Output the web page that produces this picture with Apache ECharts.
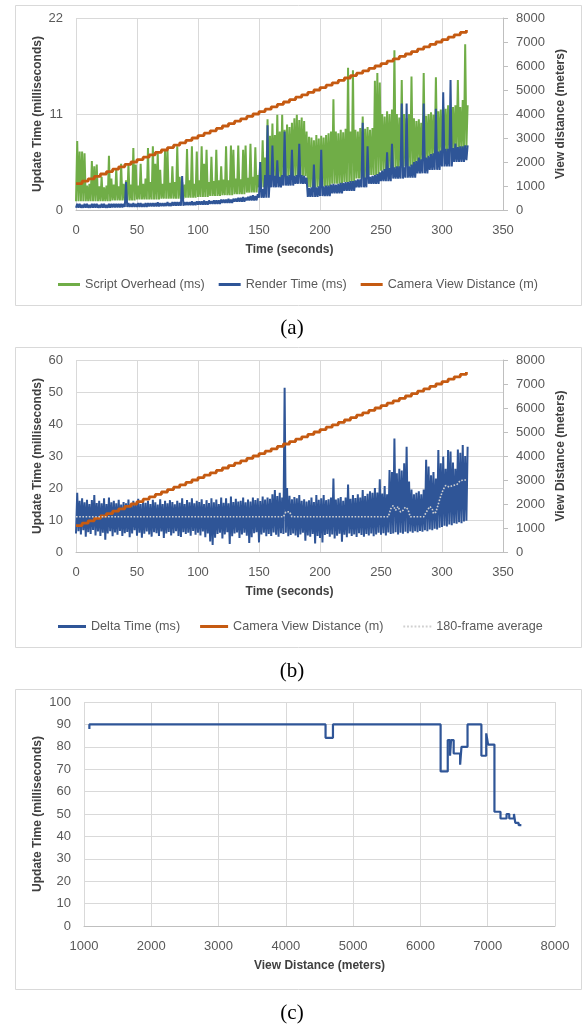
<!DOCTYPE html>
<html>
<head>
<meta charset="utf-8">
<script src="https://cdn.jsdelivr.net/npm/echarts/dist/echarts.min.js"></script>
<style>
  html, body { margin: 0; padding: 0; background: #fff; }
  #chart { width: 584px; height: 1026px; }
</style>
</head>
<body>
<div id="chart"></div>
<script>
// ---- (a) / (b): samples read every 2 s, t = 0 .. 320 ----
const sampleTimes = Array.from({ length: 161 }, (_, i) => i * 2);

// (a) Script Overhead, peak of each 2 s bin (ms)
const scriptHigh = [
  7.9, 6.7, 6.7, 6.5, 2.8, 3.0, 5.6, 5.0, 5.2, 2.7,
  3.8, 2.6, 2.8, 6.2, 3.6, 2.9, 4.8, 2.7, 5.3, 3.0,
  3.4, 5.3, 2.9, 7.1, 5.2, 2.8, 5.3, 3.0, 3.6, 7.1,
  3.2, 7.3, 5.3, 6.5, 4.6, 3.0, 6.9, 6.9, 3.1, 5.0,
  3.2, 7.3, 3.8, 3.2, 2.9, 7.0, 3.4, 7.3, 3.0, 6.7,
  3.4, 7.3, 5.3, 6.9, 3.2, 6.1, 3.3, 6.9, 3.4, 5.0,
  3.5, 7.3, 3.4, 7.4, 6.9, 3.6, 7.4, 3.5, 6.9, 7.4,
  3.7, 7.6, 3.8, 7.2, 4.0, 5.5, 8.0, 6.0, 10.4, 8.5,
  9.9, 8.6, 10.9, 9.0, 10.9, 9.2, 9.8, 9.5, 10.0, 10.5,
  10.9, 10.3, 10.6, 10.2, 9.0, 8.4, 8.3, 8.0, 8.6, 8.2,
  8.5, 8.3, 8.6, 8.8, 9.0, 12.7, 9.0, 8.8, 9.2, 8.9,
  9.3, 16.3, 9.0, 16.0, 9.2, 9.0, 9.4, 10.7, 9.3, 9.5,
  9.2, 9.4, 14.8, 15.7, 14.6, 11.0, 10.7, 11.3, 11.0, 11.5,
  18.3, 11.0, 10.6, 14.9, 11.0, 10.5, 11.0, 15.3, 10.5, 10.2,
  10.4, 10.0, 15.7, 10.8, 11.0, 11.2, 10.9, 15.2, 11.3, 11.5,
  11.8, 11.6, 12.0, 11.5, 11.8, 12.0, 14.9, 11.8, 12.6, 19.0,
  12.0
];
// (a) Script Overhead, floor of each 10 s span (ms), t = 0 .. 320
const scriptLow = [
  1.0, 1.0, 1.0, 1.1, 1.1, 1.2, 1.2, 1.3, 1.3, 1.4,
  1.5, 1.6, 1.7, 1.8, 2.0, 2.6, 3.6, 3.8, 3.9, 2.6,
  2.7, 3.0, 3.2, 3.6, 4.0, 4.5, 4.8, 5.0, 5.6, 6.2,
  6.6, 7.0, 7.2
];
// (a) Render Time, peak of each 2 s bin (ms)
const renderHigh = [
  0.7, 0.7, 0.6, 0.7, 0.7, 0.6, 0.7, 0.7, 0.7, 0.6,
  0.7, 0.7, 0.6, 0.7, 0.7, 0.7, 0.7, 0.7, 0.7, 0.7,
  3.2, 0.8, 0.7, 0.8, 0.7, 0.8, 0.8, 0.7, 0.8, 0.8,
  0.8, 0.8, 0.8, 0.9, 0.8, 0.8, 0.8, 0.9, 0.8, 0.9,
  0.9, 0.9, 0.9, 3.9, 0.9, 0.9, 0.9, 1.0, 0.9, 1.0,
  1.0, 1.0, 1.1, 1.0, 1.1, 1.0, 1.1, 1.1, 1.1, 1.2,
  1.2, 1.2, 1.3, 1.2, 1.3, 1.3, 1.4, 1.4, 1.5, 1.4,
  1.5, 1.6, 1.7, 1.6, 1.8, 5.5, 2.4, 4.0, 9.7, 4.0,
  7.4, 3.9, 5.7, 3.8, 4.0, 9.0, 3.9, 4.0, 6.9, 3.9,
  4.0, 7.6, 4.0, 3.9, 3.7, 2.5, 2.6, 5.2, 2.6, 2.7,
  6.9, 2.7, 2.8, 2.8, 2.9, 3.0, 2.9, 3.0, 3.1, 3.1,
  3.2, 3.2, 3.3, 3.3, 3.4, 3.5, 3.5, 10.0, 3.7, 7.3,
  3.8, 3.9, 4.0, 4.1, 4.3, 4.5, 4.7, 6.6, 4.8, 7.6,
  4.9, 5.0, 5.0, 12.2, 4.9, 12.2, 5.0, 5.2, 5.5, 5.6,
  6.0, 5.8, 12.2, 6.0, 6.2, 6.4, 6.5, 11.6, 6.7, 6.8,
  13.5, 7.0, 7.0, 14.9, 7.1, 7.6, 7.2, 7.3, 7.3, 7.4,
  7.4
];
// (a) Render Time, floor of each 10 s span (ms)
const renderLow = [
  0.25, 0.25, 0.25, 0.3, 0.35, 0.35, 0.4, 0.45, 0.5, 0.55,
  0.6, 0.7, 0.8, 0.95, 1.1, 1.4, 2.6, 2.8, 3.0, 1.5,
  1.6, 1.9, 2.2, 2.6, 3.0, 3.3, 3.6, 3.7, 4.2, 4.6,
  5.0, 5.5, 5.7
];

// camera view distance: one step every 5 s (m)
const stepTimes = Array.from({ length: 65 }, (_, i) => i * 5);
const viewDistance = [
  1100, 1200, 1300, 1400, 1500, 1600, 1700, 1800, 1900, 2000,
  2100, 2200, 2300, 2400, 2500, 2600, 2700, 2800, 2900, 3000,
  3100, 3200, 3300, 3400, 3500, 3600, 3700, 3800, 3900, 4000,
  4100, 4200, 4300, 4400, 4500, 4600, 4700, 4800, 4900, 5000,
  5100, 5200, 5300, 5400, 5500, 5600, 5700, 5800, 5900, 6000,
  6100, 6200, 6300, 6400, 6500, 6600, 6700, 6800, 6900, 7000,
  7100, 7200, 7300, 7400, 7500
];

// (b) Delta Time, peak / floor of each 2 s bin (ms)
const deltaHigh = [
  18.5, 16.0, 16.8, 15.5, 16.3, 15.0, 16.2, 17.8, 15.3, 16.0,
  15.2, 16.8, 15.0, 17.0, 15.5, 16.0, 15.2, 16.3, 14.8, 15.6,
  15.2, 16.4, 15.0, 16.0, 15.3, 16.6, 15.0, 15.8, 15.4, 16.0,
  15.0, 16.3, 15.5, 14.8, 16.5, 15.0, 16.0, 15.2, 16.2, 15.6,
  14.9, 16.0, 15.4, 16.8, 15.0, 16.2, 15.5, 16.8, 15.2, 16.0,
  15.6, 16.5, 15.0, 16.2, 15.3, 16.8, 15.5, 16.4, 15.0, 17.0,
  15.4, 16.8, 15.2, 17.3, 15.6, 16.6, 15.8, 16.0, 17.0, 15.5,
  16.4, 15.8, 17.0, 16.2, 16.8, 15.9, 17.3, 16.4, 17.0, 16.6,
  18.0, 19.4, 17.5, 18.5, 17.0, 51.3, 20.0, 17.6, 16.5, 17.2,
  16.8, 17.8, 16.0, 16.5, 15.8, 16.2, 17.0, 15.6, 17.8, 16.3,
  16.8, 17.8, 16.2, 16.5, 17.0, 23.0, 16.4, 16.8, 17.2, 16.0,
  17.0, 21.1, 16.6, 17.8, 16.9, 18.0, 17.0, 19.4, 17.5, 18.2,
  19.0, 18.5, 20.0, 18.6, 22.7, 18.3, 20.6, 18.0, 25.6, 25.0,
  35.5, 24.6, 26.0, 25.5, 27.7, 32.9, 22.0, 19.5, 18.0, 18.5,
  19.0, 18.0, 19.5, 28.8, 26.7, 24.0, 25.0, 23.0, 31.9, 27.7,
  29.8, 26.0, 31.9, 31.4, 28.0, 26.0, 32.0, 31.0, 33.4, 30.0,
  32.9
];
const deltaLow = [
  5.8, 6.5, 5.5, 6.8, 4.8, 6.2, 5.6, 6.9, 5.2, 6.4,
  5.0, 6.0, 3.8, 5.8, 6.5, 4.9, 6.1, 5.4, 6.6, 5.0,
  5.9, 6.3, 4.6, 5.8, 6.8, 5.1, 6.0, 4.5, 5.7, 6.4,
  5.5, 4.8, 6.2, 5.9, 5.0, 6.4, 4.4, 5.8, 6.3, 5.2,
  5.9, 6.5, 5.0, 4.7, 6.2, 5.6, 6.0, 5.1, 6.6, 5.4,
  6.0, 5.2, 6.4, 4.6, 5.8, 3.3, 2.2, 4.5, 5.6, 6.0,
  4.2, 5.5, 6.2, 2.5, 4.9, 5.8, 6.1, 4.4, 5.5, 6.0,
  5.1, 2.8, 4.6, 5.9, 6.2, 3.0, 5.5, 6.0, 4.9, 5.6,
  5.0, 6.1, 5.4, 4.8, 5.9, 5.6, 6.0, 4.9, 5.3, 5.8,
  5.2, 4.6, 5.5, 6.0, 3.5, 5.2, 4.8, 5.6, 2.7, 5.0,
  4.4, 3.0, 5.3, 5.6, 4.8, 5.5, 4.2, 5.1, 5.7, 3.2,
  5.4, 4.6, 5.8, 5.0, 5.5, 4.7, 5.9, 5.3, 4.8, 5.6,
  5.2, 5.8, 4.9, 5.5, 6.0, 5.4, 5.9, 5.2, 6.1, 5.6,
  5.8, 6.2, 5.5, 6.0, 5.7, 6.3, 5.9, 6.4, 6.0, 6.5,
  6.2, 6.6, 6.3, 6.8, 6.5, 7.0, 6.8, 7.3, 7.0, 7.6,
  7.8, 8.2, 8.0, 8.6, 8.4, 9.0, 8.8, 9.3, 9.0, 9.5,
  9.8
];
// (b) 180-frame average, read at its turning points
const avgTimes = [0, 170, 172, 175, 177, 256, 258, 260, 262, 264, 266, 268, 270, 272, 274,
  285, 288, 290, 292, 293, 295, 297, 299, 301, 303, 306, 309, 312, 315, 318, 320];
const avgValues = [11.0, 11.0, 12.5, 12.6, 11.0, 11.0, 13.5, 14.5, 13.0, 14.2, 12.5, 13.0, 14.0, 13.4, 11.0,
  11.0, 13.0, 14.2, 13.5, 12.0, 12.5, 15.0, 17.5, 19.5, 20.8, 20.3, 20.8, 21.0, 22.3, 22.5, 22.5];

// (c) update time vs view distance
const distC = [1080, 1080, 4590, 4590, 4700, 4700, 6300, 6300, 6406, 6406, 6440, 6440, 6455, 6455,
  6494, 6494, 6590, 6590, 6610, 6610, 6700, 6700, 6906, 6906, 6978, 6978, 7006, 7006, 7100, 7100,
  7190, 7190, 7280, 7280, 7320, 7320, 7390, 7390, 7410, 7410, 7460, 7460, 7500];
const updateC = [88, 90, 90, 84, 84, 90, 90, 69, 69, 83, 83, 76, 76, 83,
  83, 77, 77, 72, 72, 80, 80, 90, 90, 76, 76, 86, 86, 81, 81, 51,
  51, 48, 48, 50, 50, 48, 48, 50, 50, 46, 46, 45, 45];

const FONT = '"Liberation Sans", Arial, sans-serif';
const GRID_COLOR = '#d9d9d9';
const AXIS_COLOR = '#bfbfbf';
const LABEL_COLOR = '#595959';
const GREEN = '#70ad47', BLUE = '#2f5597', ORANGE = '#c55a11', AVG_GREY = '#d0d0d0';
const DOTS = 'path://M0,0h2v2h-2zM4,0h2v2h-2zM8,0h2v2h-2zM12,0h2v2h-2zM16,0h2v2h-2zM20,0h2v2h-2zM24,0h2v2h-2zM28,0h2v2h-2z';

// bins: lows may be given per 10 s
function zigzag(times, lows, highs) {
  const out = [];
  times.forEach((t, i) => {
    const lo = lows.length === times.length ? lows[i] : lows[Math.floor(t / 10)];
    out.push([t, lo]);
    out.push([t + 1, highs[i]]);
  });
  return out;
}
const pairs = (xs, ys) => xs.map((x, i) => [x, ys[i]]);
const plain = (v) => String(v);

const label = { color: LABEL_COLOR, fontFamily: FONT, fontSize: 13, formatter: plain };
const nameStyle = { color: '#404040', fontFamily: FONT, fontSize: 12, fontWeight: 'bold' };

function xAx(grid, min, max, step, name) {
  return {
    gridIndex: grid, type: 'value', min, max, interval: step,
    name, nameLocation: 'middle', nameGap: 34, nameTextStyle: nameStyle,
    axisLine: { show: true, lineStyle: { color: AXIS_COLOR } },
    axisTick: { show: false },
    axisLabel: Object.assign({ margin: 14 }, label),
    splitLine: { show: true, lineStyle: { color: GRID_COLOR } },
  };
}
function yLeft(grid, max, step, gap) {
  return {
    gridIndex: grid, type: 'value', min: 0, max, interval: step,
    name: 'Update Time (milliseconds)', nameLocation: 'middle', nameRotate: 90,
    nameGap: gap, nameMoveOverlap: false, nameTextStyle: nameStyle,
    axisLine: { show: false }, axisTick: { show: false },
    axisLabel: Object.assign({ margin: 13 }, label),
    splitLine: { show: true, lineStyle: { color: GRID_COLOR } },
  };
}
function yRight(grid, name) {
  return {
    gridIndex: grid, type: 'value', position: 'right', min: 0, max: 8000, interval: 1000,
    name, nameLocation: 'middle', nameRotate: 90, nameGap: 52, nameMoveOverlap: false,
    nameTextStyle: nameStyle,
    axisLine: { show: true, lineStyle: { color: AXIS_COLOR } },
    axisTick: { show: true, length: 5, lineStyle: { color: AXIS_COLOR } },
    axisLabel: Object.assign({ margin: 13 }, label),
    splitLine: { show: false },
  };
}
const caption = (text, top) => ({
  text, left: 'center', top,
  textStyle: { fontFamily: '"Liberation Serif", "Times New Roman", serif', fontSize: 21, fontWeight: 'normal', color: '#000' },
});
const panel = (y) => ({
  type: 'rect', left: 13, top: y, shape: { width: 566, height: 300 },
  style: { fill: 'none', stroke: GRID_COLOR, lineWidth: 1 }, silent: true,
});
const legendText = { color: LABEL_COLOR, fontFamily: FONT, fontSize: 12.6 };

const chart = echarts.init(document.getElementById('chart'));
chart.setOption({
  animation: false,
  backgroundColor: '#fff',
  title: [caption('(a)', 313), caption('(b)', 656), caption('(c)', 998)],
  graphic: [panel(3), panel(345), panel(687)],
  grid: [
    { left: 76, top: 18, width: 427, height: 192 },
    { left: 76, top: 360, width: 427, height: 192 },
    { left: 84, top: 702, width: 471, height: 224 },
  ],
  legend: [
    {
      top: 278, left: 58, padding: 0, itemWidth: 22, itemHeight: 3, itemGap: 14, icon: 'rect',
      textStyle: legendText,
      data: ['Script Overhead (ms)', 'Render Time (ms)', 'Camera View Distance (m)'],
    },
    {
      top: 620, left: 58, padding: 0, itemWidth: 28, itemHeight: 3, itemGap: 20, icon: 'rect',
      textStyle: legendText,
      data: ['Delta Time (ms)', 'Camera View Distance (m)',
        { name: '180-frame average', icon: DOTS }],
    },
  ],
  xAxis: [
    xAx(0, 0, 350, 50, 'Time (seconds)'),
    xAx(1, 0, 350, 50, 'Time (seconds)'),
    xAx(2, 1000, 8000, 1000, 'View Distance (meters)'),
  ],
  yAxis: [
    yLeft(0, 22, 11, 32),
    yRight(0, 'View distance (meters)'),
    yLeft(1, 60, 10, 32),
    yRight(1, 'View Distance (meters)'),
    yLeft(2, 100, 10, 40),
  ],
  series: [
    {
      name: 'Script Overhead (ms)', type: 'line', xAxisIndex: 0, yAxisIndex: 0,
      symbol: 'none', data: zigzag(sampleTimes, scriptLow, scriptHigh),
      lineStyle: { color: GREEN, width: 2 }, itemStyle: { color: GREEN },
    },
    {
      name: 'Render Time (ms)', type: 'line', xAxisIndex: 0, yAxisIndex: 0,
      symbol: 'none', data: zigzag(sampleTimes, renderLow, renderHigh),
      lineStyle: { color: BLUE, width: 2 }, itemStyle: { color: BLUE },
    },
    {
      name: 'Camera View Distance (m)', type: 'line', xAxisIndex: 0, yAxisIndex: 1,
      symbol: 'none', step: 'end', data: pairs(stepTimes, viewDistance),
      lineStyle: { color: ORANGE, width: 2.8 }, itemStyle: { color: ORANGE },
    },
    {
      name: 'Delta Time (ms)', type: 'line', xAxisIndex: 1, yAxisIndex: 2,
      symbol: 'none', data: zigzag(sampleTimes, deltaLow, deltaHigh),
      lineStyle: { color: BLUE, width: 2 }, itemStyle: { color: BLUE },
    },
    {
      name: 'Camera View Distance (m)', type: 'line', xAxisIndex: 1, yAxisIndex: 3,
      symbol: 'none', step: 'end', data: pairs(stepTimes, viewDistance),
      lineStyle: { color: ORANGE, width: 2.8 }, itemStyle: { color: ORANGE },
    },
    {
      name: '180-frame average', type: 'line', xAxisIndex: 1, yAxisIndex: 2,
      symbol: 'none', data: pairs(avgTimes, avgValues),
      lineStyle: { color: AVG_GREY, width: 1.6, type: 'dotted' }, itemStyle: { color: AVG_GREY },
    },
    {
      name: 'Update Time (ms)', type: 'line', xAxisIndex: 2, yAxisIndex: 4,
      symbol: 'none', data: pairs(distC, updateC),
      lineStyle: { color: BLUE, width: 2.2 }, itemStyle: { color: BLUE },
    },
  ],
});
</script>
</body>
</html>
